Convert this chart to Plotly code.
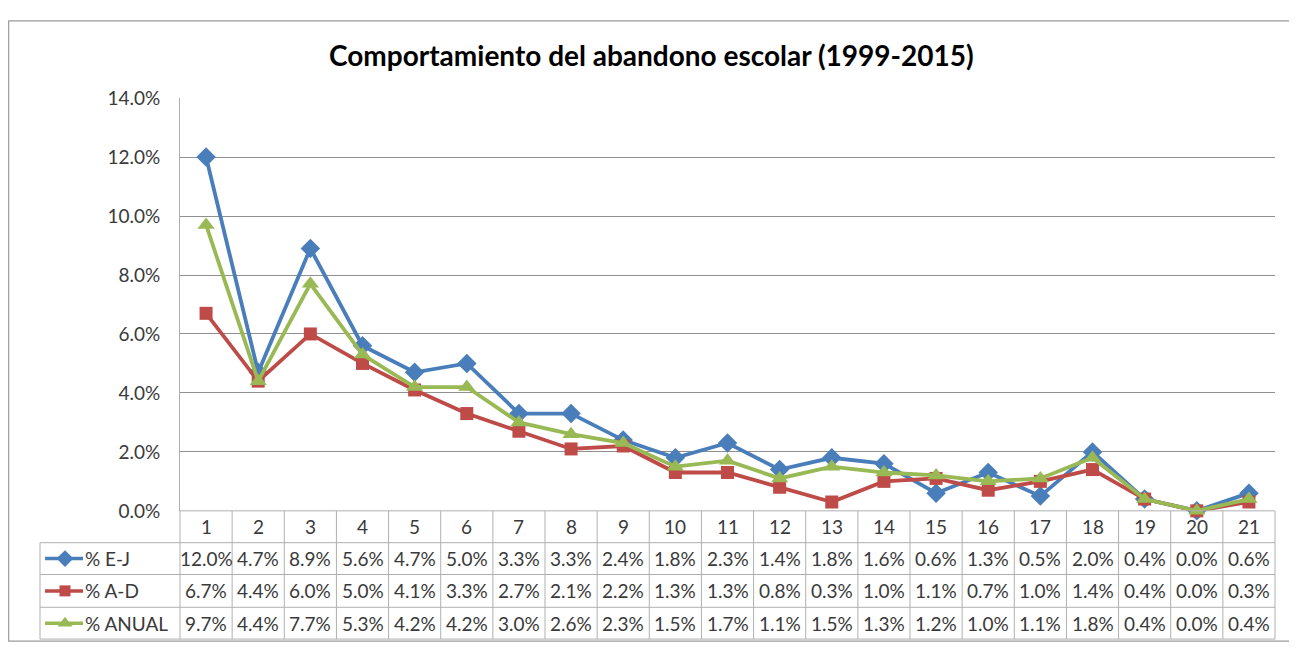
import plotly.graph_objects as go

# page body has an 8px margin: figure is placed at (8, 8) in the window
OFF = 8
W, H = 1297 - OFF, 653 - OFF

# ---------------- data ----------------
categories = list(range(1, 22))
cat_labels = [str(c) for c in categories]
pct_ej = [12.0, 4.7, 8.9, 5.6, 4.7, 5.0, 3.3, 3.3, 2.4, 1.8, 2.3, 1.4, 1.8, 1.6, 0.6, 1.3, 0.5, 2.0, 0.4, 0.0, 0.6]
pct_ad = [6.7, 4.4, 6.0, 5.0, 4.1, 3.3, 2.7, 2.1, 2.2, 1.3, 1.3, 0.8, 0.3, 1.0, 1.1, 0.7, 1.0, 1.4, 0.4, 0.0, 0.3]
pct_anual = [9.7, 4.4, 7.7, 5.3, 4.2, 4.2, 3.0, 2.6, 2.3, 1.5, 1.7, 1.1, 1.5, 1.3, 1.2, 1.0, 1.1, 1.8, 0.4, 0.0, 0.4]
series_names = ["% E-J", "% A-D", "% ANUAL"]
title_text = "Comportamiento del abandono escolar (1999-2015)"
y_tick_values = [0, 2, 4, 6, 8, 10, 12, 14]

# ---------------- styles ----------------
colors = ["#4A7EBB", "#BE4B48", "#98B954"]
symbols = ["diamond", "square", "triangle-up"]
msizes = [15, 13, 15]
FONT = "Lato"
TXT = "#3a3a3a"
GRID = "#8f8f8f"
TBL = "#b0b0b0"

# layout geometry (window pixels)
PX_L, PX_R = 180, 1275
PY_TOP, PY_ZERO = 89, 517
ROW_Y = [517, 550, 583, 617, 650]   # table row boundaries
LEG_L = 40


def fx(px):
    return (px - OFF) / W


def fy(py):
    return 1 - (py - OFF) / H


series = [pct_ej, pct_ad, pct_anual]

fig = go.Figure()

for name, vals, c, s, ms in zip(series_names, series, colors, symbols, msizes):
    fig.add_trace(go.Scatter(
        x=categories, y=vals, name=name, mode="lines+markers",
        line=dict(color=c, width=3.8),
        marker=dict(symbol=s, size=ms, color=c),
        showlegend=False, cliponaxis=False,
    ))

# legend keys inside the data table (overlay axes in window-pixel space)
for i, (name, c, s, ms) in enumerate(zip(series_names, colors, symbols, msizes)):
    yc = (ROW_Y[i + 1] + ROW_Y[i + 2]) / 2
    fig.add_trace(go.Scatter(
        x=[45, 65, 83], y=[yc, yc, yc], mode="lines",
        line=dict(color=c, width=3.5), xaxis="x2", yaxis="y2",
        showlegend=False, hoverinfo="skip",
    ))
    fig.add_trace(go.Scatter(
        x=[65], y=[yc], mode="markers",
        marker=dict(symbol=s, size=ms - 2, color=c), xaxis="x2", yaxis="y2",
        showlegend=False, hoverinfo="skip",
    ))

shapes = []
annotations = []

# outer frame
shapes.append(dict(type="rect", xref="paper", yref="paper",
                   x0=fx(8.7), x1=fx(1291), y0=fy(652), y1=fy(9),
                   line=dict(color="#9a9a9a", width=1.2)))

# table horizontal lines
shapes.append(dict(type="line", xref="paper", yref="paper",
                   x0=fx(PX_L), x1=fx(PX_R), y0=fy(ROW_Y[0]), y1=fy(ROW_Y[0]),
                   line=dict(color=TBL, width=1)))
for ry in ROW_Y[1:]:
    shapes.append(dict(type="line", xref="paper", yref="paper",
                       x0=fx(LEG_L), x1=fx(PX_R), y0=fy(ry), y1=fy(ry),
                       line=dict(color=TBL, width=1)))
# table vertical lines (category boundaries)
for c in categories[:-1]:
    shapes.append(dict(type="line", xref="x", yref="paper",
                       x0=c + 0.5, x1=c + 0.5, y0=fy(ROW_Y[0]), y1=fy(ROW_Y[-1]),
                       line=dict(color=TBL, width=1)))
for px in (PX_L, PX_R):
    shapes.append(dict(type="line", xref="paper", yref="paper",
                       x0=fx(px), x1=fx(px), y0=fy(ROW_Y[0]), y1=fy(ROW_Y[-1]),
                       line=dict(color=TBL, width=1)))
shapes.append(dict(type="line", xref="paper", yref="paper",
                   x0=fx(LEG_L), x1=fx(LEG_L), y0=fy(ROW_Y[1]), y1=fy(ROW_Y[-1]),
                   line=dict(color=TBL, width=1)))

# header numbers
for c, lab in zip(categories, cat_labels):
    annotations.append(dict(x=c, y=fy((ROW_Y[0] + ROW_Y[1]) / 2), xref="x", yref="paper",
                            text=lab, showarrow=False, xanchor="center", yanchor="middle",
                            font=dict(family=FONT, size=19, color=TXT)))
# values
for r, vals in enumerate(series):
    yc = fy((ROW_Y[r + 1] + ROW_Y[r + 2]) / 2)
    for c, v in zip(categories, vals):
        annotations.append(dict(x=c, y=yc, xref="x", yref="paper",
                                text=f"{v:.1f}%", showarrow=False,
                                xanchor="center", yanchor="middle",
                                font=dict(family=FONT, size=19, color=TXT)))
    annotations.append(dict(x=fx(84), y=yc, xref="paper", yref="paper",
                            text=series_names[r], showarrow=False,
                            xanchor="left", yanchor="middle", borderpad=0,
                            font=dict(family=FONT, size=19, color=TXT)))

# title
annotations.append(dict(x=fx(651), y=fy(44), xref="paper", yref="paper",
                        text=f"<b>{title_text}</b>", showarrow=False,
                        xanchor="center", yanchor="middle",
                        font=dict(family=FONT, size=28, color="#000000")))

fig.update_layout(
    width=W, height=H,
    margin=dict(l=0, r=0, t=0, b=0),
    paper_bgcolor="white", plot_bgcolor="rgba(0,0,0,0)",
    showlegend=False,
    xaxis=dict(domain=[fx(PX_L), fx(PX_R)], range=[0.5, 21.5],
               showticklabels=False, showgrid=False, zeroline=False,
               showline=False, ticks=""),
    yaxis=dict(domain=[fy(PY_ZERO), fy(PY_TOP)], range=[0, 14],
               tickvals=y_tick_values, ticktext=[f"{v:.1f}%" for v in y_tick_values],
               showgrid=True, gridcolor=GRID, gridwidth=1.3,
               zeroline=False, showline=True, linecolor=TBL, linewidth=1,
               ticks="", ticklabelstandoff=15,
               tickfont=dict(family=FONT, size=19, color=TXT)),
    xaxis2=dict(domain=[0, 1], range=[OFF, OFF + W], visible=False, anchor="y2"),
    yaxis2=dict(domain=[0, 1], range=[OFF + H, OFF], visible=False, anchor="x2"),
    shapes=shapes,
    annotations=annotations,
)

fig.write_html("out.html")
